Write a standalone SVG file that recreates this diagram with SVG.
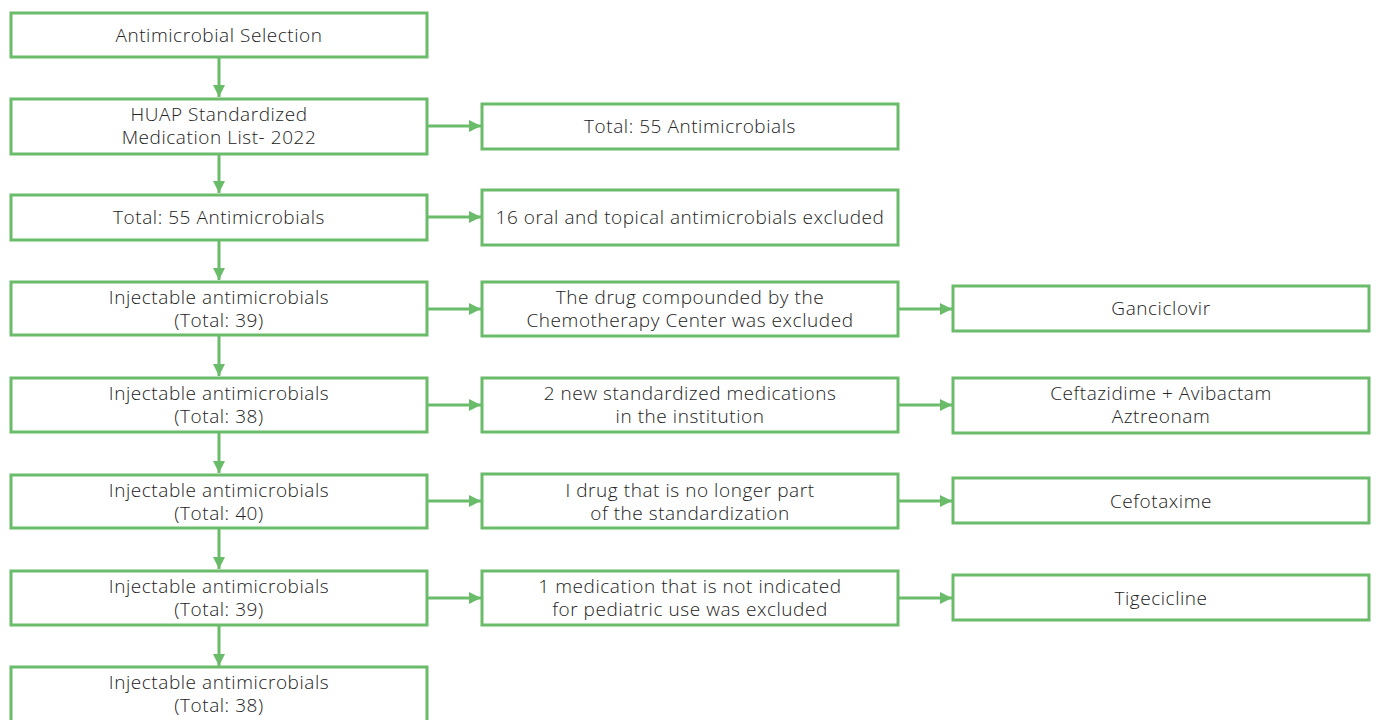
<svg xmlns="http://www.w3.org/2000/svg" width="1376" height="720" viewBox="0 0 1376 720">
<defs>
<style>
.box{fill:#fff;stroke:#6abb6a;stroke-width:3}
.t{font-family:"Open Sans","Noto Sans",sans-serif;font-size:19px;letter-spacing:0.55px;fill:#222;text-anchor:middle;font-weight:300}
.c{stroke:#6abb6a;stroke-width:3;fill:none}
</style>
<marker id="ah" viewBox="0 0 10 10" refX="10" refY="5" markerWidth="4" markerHeight="4" markerUnits="strokeWidth" orient="auto">
<path d="M0,0 L10,5 L0,10 Z" fill="#6abb6a"/>
</marker>
</defs>
<rect width="1376" height="720" fill="#fff"/>
<g id="connectors">
<line class="c" x1="219" y1="58" x2="219" y2="97" marker-end="url(#ah)"/>
<line class="c" x1="219" y1="155" x2="219" y2="193" marker-end="url(#ah)"/>
<line class="c" x1="219" y1="241" x2="219" y2="280" marker-end="url(#ah)"/>
<line class="c" x1="219" y1="336" x2="219" y2="376" marker-end="url(#ah)"/>
<line class="c" x1="219" y1="433" x2="219" y2="473" marker-end="url(#ah)"/>
<line class="c" x1="219" y1="529" x2="219" y2="569" marker-end="url(#ah)"/>
<line class="c" x1="219" y1="626" x2="219" y2="666" marker-end="url(#ah)"/>
<line class="c" x1="428" y1="126" x2="481" y2="126" marker-end="url(#ah)"/>
<line class="c" x1="428" y1="217" x2="481" y2="217" marker-end="url(#ah)"/>
<line class="c" x1="428" y1="309" x2="481" y2="309" marker-end="url(#ah)"/>
<line class="c" x1="428" y1="405" x2="481" y2="405" marker-end="url(#ah)"/>
<line class="c" x1="428" y1="501" x2="481" y2="501" marker-end="url(#ah)"/>
<line class="c" x1="428" y1="598" x2="481" y2="598" marker-end="url(#ah)"/>
<line class="c" x1="899" y1="309" x2="952" y2="309" marker-end="url(#ah)"/>
<line class="c" x1="899" y1="405" x2="952" y2="405" marker-end="url(#ah)"/>
<line class="c" x1="899" y1="501" x2="952" y2="501" marker-end="url(#ah)"/>
<line class="c" x1="899" y1="598" x2="952" y2="598" marker-end="url(#ah)"/>
</g>
<g id="n1"><rect class="box" x="11" y="13" width="416" height="44"/><text class="t" x="219" y="42">Antimicrobial Selection</text></g>
<g id="n2"><rect class="box" x="11" y="99" width="416" height="55"/><text class="t" x="219" y="121">HUAP Standardized</text><text class="t" x="219" y="144">Medication List- 2022</text></g>
<g id="n3"><rect class="box" x="11" y="195" width="416" height="45"/><text class="t" x="219" y="224">Total: 55 Antimicrobials</text></g>
<g id="n4"><rect class="box" x="11" y="282" width="416" height="53"/><text class="t" x="219" y="304">Injectable antimicrobials</text><text class="t" x="219" y="327">(Total: 39)</text></g>
<g id="n5"><rect class="box" x="11" y="378" width="416" height="54"/><text class="t" x="219" y="400">Injectable antimicrobials</text><text class="t" x="219" y="423">(Total: 38)</text></g>
<g id="n6"><rect class="box" x="11" y="475" width="416" height="53"/><text class="t" x="219" y="497">Injectable antimicrobials</text><text class="t" x="219" y="520">(Total: 40)</text></g>
<g id="n7"><rect class="box" x="11" y="571" width="416" height="54"/><text class="t" x="219" y="593">Injectable antimicrobials</text><text class="t" x="219" y="616">(Total: 39)</text></g>
<g id="n8"><rect class="box" x="11" y="667" width="416" height="56"/><text class="t" x="219" y="689">Injectable antimicrobials</text><text class="t" x="219" y="712">(Total: 38)</text></g>
<g id="m1"><rect class="box" x="482" y="104" width="416" height="45"/><text class="t" x="690" y="133">Total: 55 Antimicrobials</text></g>
<g id="m2"><rect class="box" x="482" y="190" width="416" height="55"/><text class="t" x="690" y="224">16 oral and topical antimicrobials excluded</text></g>
<g id="m3"><rect class="box" x="482" y="282" width="416" height="54"/><text class="t" x="690" y="304">The drug compounded by the</text><text class="t" x="690" y="327">Chemotherapy Center was excluded</text></g>
<g id="m4"><rect class="box" x="482" y="378" width="416" height="54"/><text class="t" x="690" y="400">2 new standardized medications</text><text class="t" x="690" y="423">in the institution</text></g>
<g id="m5"><rect class="box" x="482" y="474" width="416" height="54"/><text class="t" x="690" y="497">I drug that is no longer part</text><text class="t" x="690" y="520">of the standardization</text></g>
<g id="m6"><rect class="box" x="482" y="571" width="416" height="54"/><text class="t" x="690" y="593">1 medication that is not indicated</text><text class="t" x="690" y="616">for pediatric use was excluded</text></g>
<g id="r1"><rect class="box" x="953" y="286" width="416" height="45"/><text class="t" x="1161" y="315">Ganciclovir</text></g>
<g id="r2"><rect class="box" x="953" y="378" width="416" height="55"/><text class="t" x="1161" y="400">Ceftazidime + Avibactam</text><text class="t" x="1161" y="423">Aztreonam</text></g>
<g id="r3"><rect class="box" x="953" y="478" width="416" height="45"/><text class="t" x="1161" y="508">Cefotaxime</text></g>
<g id="r4"><rect class="box" x="953" y="575" width="416" height="45"/><text class="t" x="1161" y="605">Tigecicline</text></g>
</svg>
